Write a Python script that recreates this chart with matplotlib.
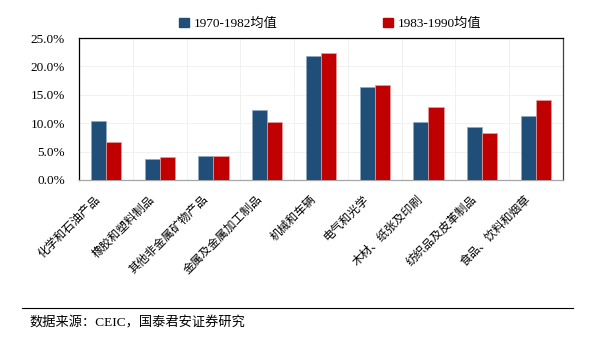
import matplotlib
matplotlib.use("Agg")
import matplotlib.pyplot as plt
import matplotlib.transforms as mtransforms
import numpy as np
from matplotlib.patches import Patch
from matplotlib.ticker import FuncFormatter

plt.rcParams['font.family'] = ['Liberation Serif', 'Noto Sans CJK SC']

categories = ['化学和石油产品', '橡胶和塑料制品', '其他非金属矿物产品', '金属及金属加工制品',
              '机械和车辆', '电气和光学', '木材、纸张及印刷', '纺织品及皮革制品', '食品、饮料和烟草']
avg_7082 = [10.3, 3.6, 4.3, 12.3, 21.8, 16.3, 10.2, 9.3, 11.3]
avg_8390 = [6.6, 4.1, 4.3, 10.2, 22.4, 16.8, 12.9, 8.3, 14.1]
series_names = ['1970-1982均值', '1983-1990均值']

blue = '#1F4E79'
red = '#C00000'

fig = plt.figure(figsize=(5.9, 3.44), dpi=100)
ax = fig.add_axes([0.134, 0.477, 0.82, 0.4125])

x = np.arange(len(categories))
w = 0.28
ax.bar(x - w / 2, avg_7082, w, color=blue, edgecolor='#8EA9C1', linewidth=0.5, zorder=3)
ax.bar(x + w / 2, avg_8390, w, color=red, edgecolor='#E8A0A0', linewidth=0.5, zorder=3)

ax.set_xlim(-0.5, len(categories) - 0.5)
ax.set_ylim(0, 25)
ax.set_yticks(np.arange(0, 25.1, 5))
ax.yaxis.set_major_formatter(FuncFormatter(lambda v, p: f'{v:.1f}%'))
ax.tick_params(axis='y', length=0, labelsize=9.5, pad=10)
ax.tick_params(axis='x', length=0)

# faint grid, horizontal at ticks and vertical between categories
for yv in np.arange(5, 25, 5):
    ax.axhline(yv, color='#EFEFEF', linewidth=0.6, zorder=0)
for xv in np.arange(0.5, len(categories) - 0.5, 1):
    ax.axvline(xv, color='#EFEFEF', linewidth=0.6, zorder=0)

ax.set_xticks(x)
ax.set_xticklabels(categories, rotation=45, ha='right', va='top', rotation_mode='anchor',
                   fontsize=8.5, family=['Noto Sans CJK SC'])
shift = mtransforms.ScaledTranslation(-12 / 100, -8 / 100, fig.dpi_scale_trans)
for lbl in ax.get_xticklabels():
    lbl.set_transform(lbl.get_transform() + shift)

ax.spines['top'].set_color('black')
ax.spines['left'].set_color('black')
ax.spines['right'].set_color('#404040')
ax.spines['bottom'].set_color('#A6A6A6')
for s in ax.spines.values():
    s.set_linewidth(0.9)

handles = [Patch(color=blue), Patch(color=red)]
fig.legend(handles, series_names, loc='center', bbox_to_anchor=(0.56, 0.93), ncol=2,
           frameon=False, fontsize=9.5, handlelength=0.7, handleheight=0.7,
           handletextpad=0.4, columnspacing=8)

fig.add_artist(plt.Line2D([0.037, 0.971], [0.105, 0.105], color='black', linewidth=0.8,
                          transform=fig.transFigure))
fig.text(0.05, 0.06, '数据来源：CEIC，国泰君安证券研究', fontsize=9.5, va='center', ha='left')

fig.savefig('out.png', dpi=100)
